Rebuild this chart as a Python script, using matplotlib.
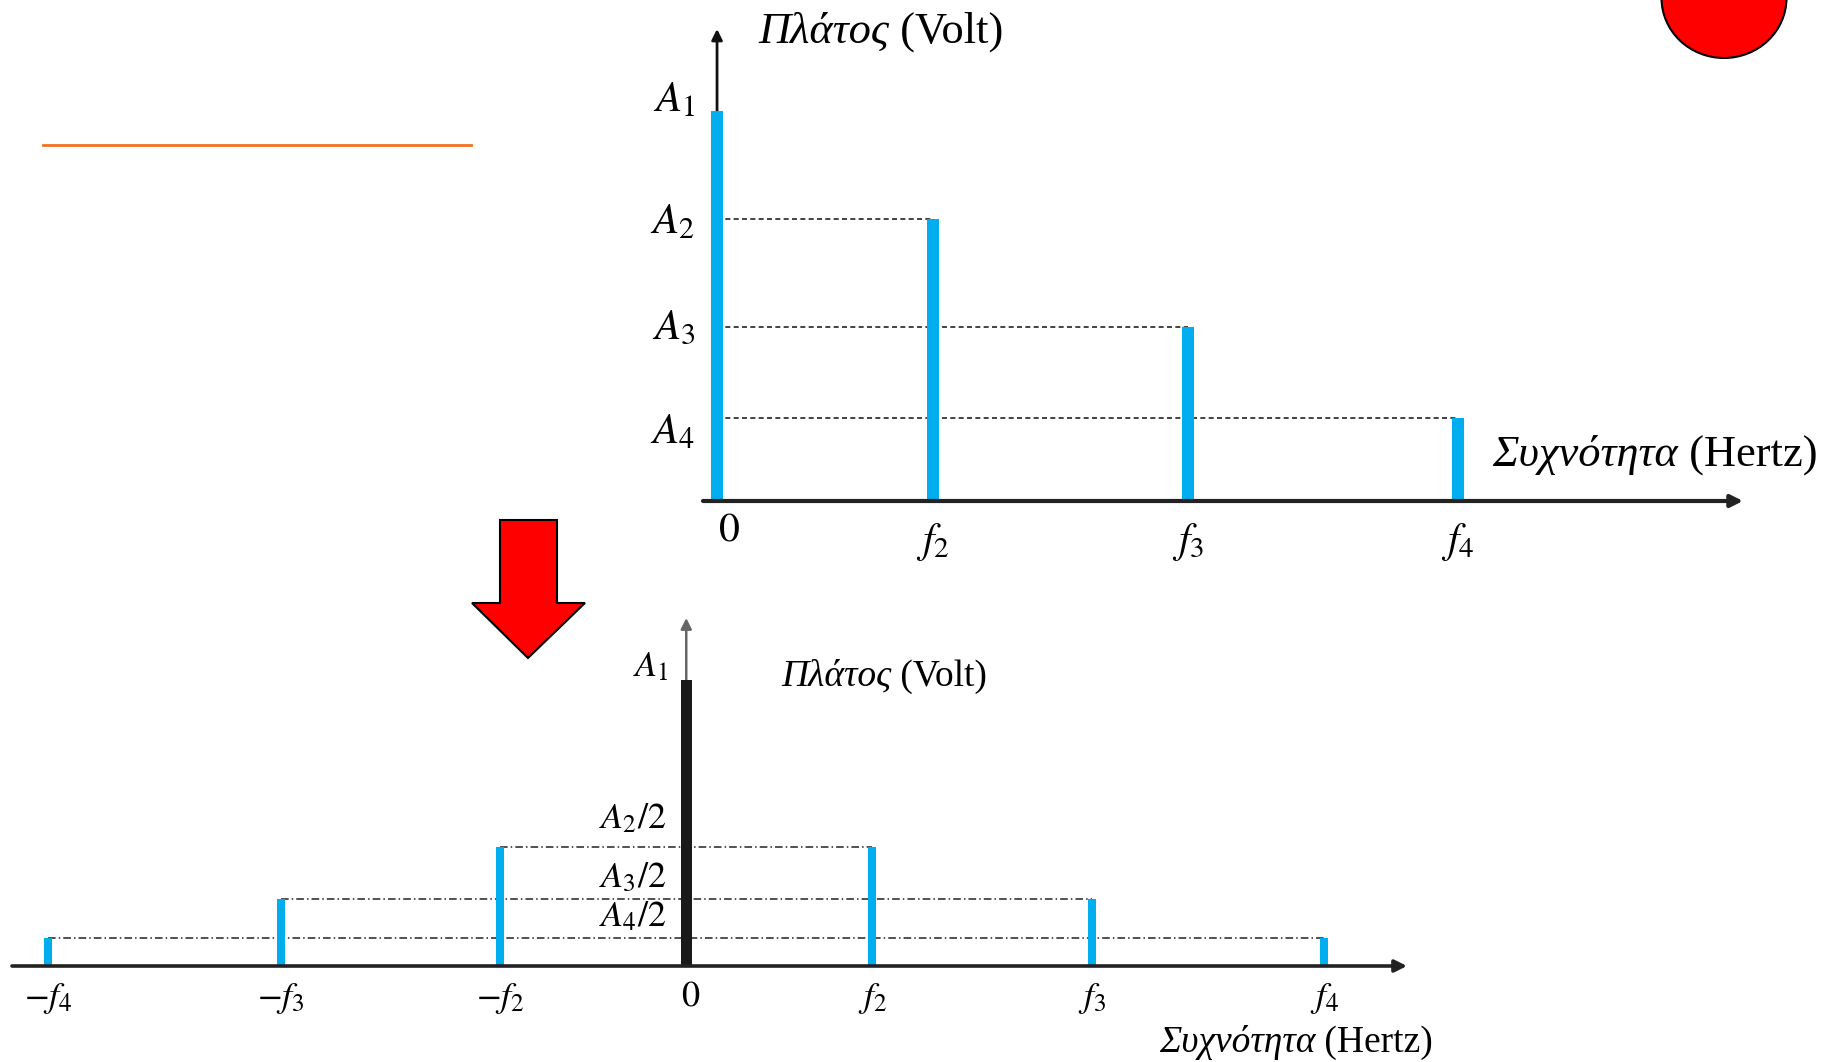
import matplotlib
matplotlib.use('Agg')
import matplotlib.pyplot as plt
from matplotlib.patches import Polygon, Ellipse
from matplotlib.lines import Line2D

plt.rcParams['mathtext.fontset'] = 'stix'
plt.rcParams['font.family'] = ['Liberation Serif', 'DejaVu Serif']

# one-sided spectrum
freqs = [0, 2.0, 4.36, 6.86]
amps = [4.7, 3.4, 2.1, 1.0]
amp_labels = [r'$A_1$', r'$A_2$', r'$A_3$', r'$A_4$']
freq_labels = [r'$0$', r'$f_2$', r'$f_3$', r'$f_4$']

# two-sided spectrum
freqs2 = [-6.86, -4.36, -2.0, 0, 2.0, 4.36, 6.86]
amps2 = [0.46, 1.10, 1.95, 4.7, 1.95, 1.10, 0.46]
freq_labels2 = [r'$-f_4$', r'$-f_3$', r'$-f_2$', r'$0$', r'$f_2$', r'$f_3$', r'$f_4$']
half_labels = [r'$A_2/2$', r'$A_3/2$', r'$A_4/2$']

blue = '#00AEEF'
W, H = 1828, 1062
fig = plt.figure(figsize=(W / 100, H / 100), dpi=100)


def px_rect(left, top, right, bottom):
    return [left / W, 1 - bottom / H, (right - left) / W, (bottom - top) / H]


def px(x, y):
    return (x / W, 1 - y / H)


def axis_arrows(ax, lw_h, lw_v, col_v):
    x0, x1 = ax.get_xlim()
    y0, y1 = ax.get_ylim()
    ax.annotate('', xy=(x1, 0), xytext=(x0, 0), annotation_clip=False,
                arrowprops=dict(arrowstyle='-|>', color='#222222', lw=lw_h,
                                mutation_scale=18, shrinkA=0, shrinkB=0), zorder=5)
    ax.annotate('', xy=(0, y1), xytext=(0, 0), annotation_clip=False,
                arrowprops=dict(arrowstyle='-|>', color=col_v, lw=lw_v,
                                mutation_scale=16, shrinkA=0, shrinkB=0), zorder=1)


def axis_title(ax, x, y, greek, unit, size):
    t = ax.text(x, y, greek, fontsize=size, fontstyle='italic', va='center')
    ax.annotate(' ' + unit, xy=(1, 0.5), xycoords=t, va='center', fontsize=size)


# ---------- top: one-sided ----------
ax = fig.add_axes(px_rect(703, 29, 1743, 501))
ax.set_xlim(-0.13, 9.5)
ax.set_ylim(0, 5.69)
ax.axis('off')

axis_arrows(ax, 3, 2, '#111111')
ax.hlines(amps[1:], 0, freqs[1:], colors='#222222', lw=1.2, linestyles=(0, (3, 2)), zorder=2)
ax.bar(freqs, amps, width=0.105, color=blue, zorder=3)

label_dy = [10, -4, -2, -15]
for a, lab, dy in zip(amps, amp_labels, label_dy):
    ax.annotate(lab, (0, a), xytext=(-22, dy), textcoords='offset pixels',
                ha='right', va='center', fontsize=31)
for f, lab in zip(freqs, freq_labels):
    if f == 0:
        ax.annotate(lab, (f, 0), xytext=(12, -10), textcoords='offset pixels',
                    ha='center', va='top', fontsize=30)
    else:
        ax.annotate(lab, (f, 0), xytext=(0, -20), textcoords='offset pixels',
                    ha='center', va='top', fontsize=30)

axis_title(ax, 0.38, 5.66, 'Πλάτος', '(Volt)', 32)
axis_title(ax, 7.18, 0.55, 'Συχνότητα', '(Hertz)', 32)

# ---------- bottom: two-sided ----------
ax2 = fig.add_axes(px_rect(12, 618, 1407, 966))
ax2.set_xlim(-7.25, 7.75)
ax2.set_ylim(0, 5.71)
ax2.axis('off')

axis_arrows(ax2, 2.6, 1.8, '#666666')
for f, a in zip(freqs2, amps2):
    if f > 0:
        ax2.hlines(a, -f, f, colors='#222222', lw=1.1, linestyles=(0, (5, 2, 1, 2)), zorder=2)
colors2 = ['#1a1a1a' if f == 0 else blue for f in freqs2]
widths2 = [0.12 if f == 0 else 0.085 for f in freqs2]
ax2.bar(freqs2, amps2, width=widths2, color=colors2, zorder=3)

ax2.annotate(r'$A_1$', (0, max(amps2)), xytext=(-17, 12), textcoords='offset pixels',
             ha='right', va='center', fontsize=26)
half_vals = [a for f, a in zip(freqs2, amps2) if f > 0]
half_dy = [28, 20, 21]
for a, lab, dy in zip(half_vals, half_labels, half_dy):
    ax2.annotate(lab, (0, a), xytext=(-20, dy), textcoords='offset pixels',
                 ha='right', va='center', fontsize=26)
for f, lab in zip(freqs2, freq_labels2):
    dx = 4 if f == 0 else 0
    ax2.annotate(lab, (f, 0), xytext=(dx, -15), textcoords='offset pixels',
                 ha='center', va='top', fontsize=26)

axis_title(ax2, 1.02, 4.75, 'Πλάτος', '(Volt)', 27)
axis_title(ax2, 5.08, -1.26, 'Συχνότητα', '(Hertz)', 27)

# ---------- decorations ----------
fig.add_artist(Line2D([43 / W, 471 / W], [1 - 145 / H, 1 - 145 / H], color='#F37021', lw=2))
arrow_px = [(500, 520), (557, 520), (557, 603), (585, 603), (528, 658), (472, 603), (500, 603)]
fig.add_artist(Polygon([px(x, y) for x, y in arrow_px], closed=True, facecolor='#FF0000',
                       edgecolor='black', lw=1.5, transform=fig.transFigure))
fig.add_artist(Ellipse(px(1724, -2), 125 / W, 120 / H, facecolor='#FF0000',
                       edgecolor='black', lw=1.5, transform=fig.transFigure))

fig.savefig('out.png', dpi=100, facecolor='white')
